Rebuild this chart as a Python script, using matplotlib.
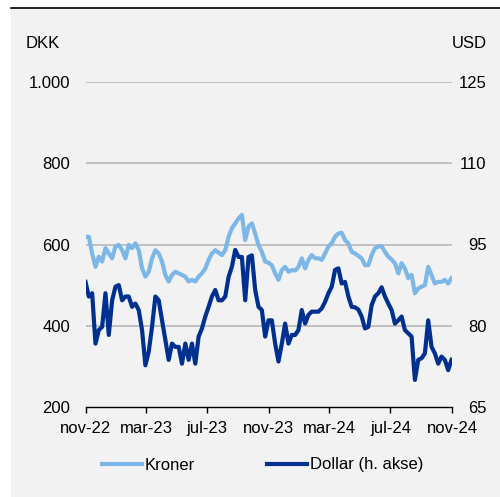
import matplotlib.pyplot as plt
import matplotlib.dates as mdates
from matplotlib.patches import Rectangle
from matplotlib.lines import Line2D
import pandas as pd

plt.rcParams['font.family'] = ['Liberation Sans', 'DejaVu Sans']
plt.rcParams['font.size'] = 12

# kroner (left axis), roughly every 6-7 days
kroner = [619, 619, 578, 545, 570, 558, 591, 578, 566, 595, 599, 586, 566, 599, 591,
          603, 586, 541, 521, 533, 566, 586, 578, 558, 525, 509, 525, 533, 529, 525,
          521, 509, 513, 509, 521, 529, 541, 562, 578, 586, 580, 574, 586, 619, 640,
          652, 664, 673, 611, 644, 652, 627, 599,
          582, 558, 555, 549, 529, 513, 537, 545, 533, 537, 536, 545, 566, 541, 562,
          574, 566, 566, 562, 578, 595, 603, 619, 627, 629, 611, 603, 582, 578, 572,
          566, 549, 549, 574, 591, 595, 596, 582, 570, 563, 554, 529, 554, 541, 517,
          525, 480, 492, 496, 500, 545, 525, 504, 508, 508, 513, 504, 517]

# dollar (right axis)
dollar = [88.1, 85.4, 86.0, 76.7, 79.2, 79.8, 86.0, 78.3, 84.7, 87.2, 87.5, 84.7, 85.4,
          85.4, 83.5, 84.1, 82.9, 79.2, 72.7, 75.2, 79.8, 85.4, 84.7, 81.0, 77.4, 73.7,
          76.7, 76.1, 76.1, 73.0, 76.7, 73.7, 76.7, 73.0, 78.0, 79.5, 81.7, 83.5, 85.4,
          86.6, 84.7, 84.7, 85.4, 89.0, 90.9, 94.0, 92.7, 92.7, 84.7, 92.7, 93.0, 86.6,
          83.5,
          82.9, 78.0, 81.0, 81.0, 76.7, 73.4, 76.7, 80.4, 76.7, 78.3, 78.3, 79.2, 82.9,
          80.4, 82.0, 82.6, 82.6, 82.6, 83.2, 84.4, 86.0, 87.2, 90.3, 90.6, 87.8, 88.1,
          85.4, 83.5, 83.4, 83.0, 81.7, 79.5, 79.8, 83.8, 85.4, 86.0, 87.1, 85.4, 84.1,
          82.9, 80.4, 81.0, 81.7, 79.2, 78.6, 78.0, 70.0, 73.7, 74.0, 74.9, 81.0, 76.1,
          74.9, 73.0, 74.3, 73.7, 71.8, 73.7]

dates = pd.date_range('2022-10-31', '2024-10-31', periods=len(kroner))
tick_dates = pd.date_range('2022-11-01', '2024-11-01', freq='4MS')
tick_labels = ['nov-22', 'mar-23', 'jul-23', 'nov-23', 'mar-24', 'jul-24', 'nov-24']

bg = '#f2f2f2'
fig = plt.figure(figsize=(5, 4.97), dpi=100)
fig.patches.append(Rectangle((11 / 500, 0), 1, 1 - 8 / 497, transform=fig.transFigure,
                             facecolor=bg, edgecolor='none', zorder=-10))
fig.lines.append(Line2D([11 / 500, 1], [1 - 7.5 / 497] * 2, transform=fig.transFigure,
                        color='black', lw=1.2))

ax = fig.add_axes([86 / 500, 1 - 407 / 497, 366 / 500, 325 / 497])
ax.set_facecolor('none')
ax2 = ax.twinx()

ax.plot(dates, kroner, color='#7db7e8', lw=3, solid_joinstyle='round', zorder=3)
ax2.plot(dates, dollar, color='#00308f', lw=3, solid_joinstyle='round', zorder=3)

ax.set_xlim(pd.Timestamp('2022-11-01'), pd.Timestamp('2024-11-01'))
ax.set_ylim(200, 1000)
ax2.set_ylim(65, 125)
ax.set_yticks([200, 400, 600, 800, 1000])
ax.set_yticklabels(['200', '400', '600', '800', '1.000'])
ax2.set_yticks([65, 80, 95, 110, 125])
ax.set_xticks(tick_dates)
ax.set_xticklabels(tick_labels)

for y in [400, 600, 800, 1000]:
    ax.axhline(y, color='#b3b3b3', lw=1.1, zorder=1)

for a in (ax, ax2):
    for s in ['left', 'right', 'top']:
        a.spines[s].set_visible(False)
ax2.spines['bottom'].set_visible(False)
ax.spines['bottom'].set_linewidth(1.0)
ax.tick_params(axis='y', length=0, pad=11.5)
ax2.tick_params(axis='y', length=0, pad=25)
for lab in ax2.get_yticklabels():
    lab.set_horizontalalignment('right')
ax.tick_params(axis='x', length=4, width=1, direction='out', pad=6)

fig.text(26 / 500, 1 - 44 / 497, 'DKK', ha='left', va='center')
fig.text(487 / 500, 1 - 44 / 497, 'USD', ha='right', va='center')

handles = [Line2D([], [], color='#7db7e8', lw=3), Line2D([], [], color='#00308f', lw=3)]
fig.legend(handles, ['Kroner', 'Dollar (h. akse)'], loc='center', ncol=2, frameon=False,
           bbox_to_anchor=(0.525, 1 - 465 / 497), handlelength=2.4, handletextpad=0.2,
           columnspacing=4.3)

fig.savefig('out.png', dpi=100, facecolor='white')
